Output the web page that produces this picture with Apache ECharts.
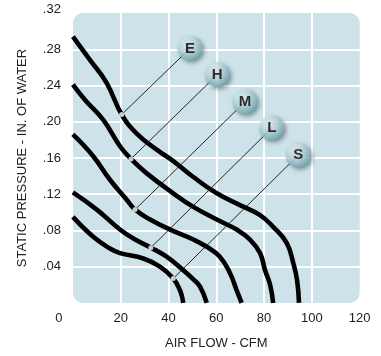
<!DOCTYPE html>
<html>
<head>
<meta charset="utf-8">
<script src="https://cdn.jsdelivr.net/npm/echarts@6/dist/echarts.min.js"></script>
<style>
html,body{margin:0;padding:0;background:#fff;}
#chart{width:381px;height:356px;}
</style>
</head>
<body>
<div id="chart"></div>
<script>
// ---- data ----
const xTickValues = [0, 20, 40, 60, 80, 100, 120];
const xTickLabels = ['0', '20', '40', '60', '80', '100', '120'];
const yTickValues = [0, 0.04, 0.08, 0.12, 0.16, 0.20, 0.24, 0.28, 0.32];
const yTickLabels = ['', '.04', '.08', '.12', '.16', '.20', '.24', '.28', '.32'];

const curveE = [[0,0.294],[7.2,0.268],[14.1,0.243],[20.4,0.208],[26.7,0.187],[35.2,0.169],[42.3,0.156],[50.4,0.139],[60.2,0.121],[69.9,0.108],[78.3,0.097],[83.8,0.084],[89.5,0.066],[92.2,0.044],[93.8,0.025],[94.6,0]];
const curveH = [[0,0.241],[5.1,0.224],[12.7,0.202],[19.7,0.173],[24.3,0.159],[30.9,0.143],[42.0,0.121],[50.4,0.106],[60.2,0.092],[68.5,0.081],[74.1,0.070],[78.3,0.055],[80.4,0.036],[82.5,0.020],[83.8,0]];
const curveM = [[0,0.186],[8.5,0.162],[15.5,0.136],[22.5,0.114],[26.0,0.103],[32.3,0.092],[40.7,0.081],[50.4,0.070],[56.0,0.062],[61.5,0.051],[65.7,0.033],[68.5,0.014],[70.6,0]];
const curveL = [[0,0.122],[10.0,0.103],[19.7,0.081],[25.3,0.071],[32.6,0.061],[39.2,0.051],[46.2,0.036],[50.4,0.026],[53.2,0.018],[56.0,0]];
const curveS = [[0,0.095],[8.5,0.073],[15.5,0.060],[19.7,0.055],[29.5,0.049],[36.4,0.040],[42.0,0.027],[44.8,0.014],[46.2,0]];

const speedNames = ['E', 'H', 'M', 'L', 'S'];
const dotPoints = [[20.4,0.208],[24.3,0.159],[26.0,0.103],[32.6,0.061],[42.0,0.027]];
const badgePoints = [[49.0,0.281],[60.4,0.252],[72.0,0.222],[83.2,0.193],[94.3,0.163]];

// ---- chart ----
const chart = echarts.init(document.getElementById('chart'), null, {renderer: 'canvas'});
const FONT = '"Liberation Sans", Arial, Helvetica, sans-serif';
const curves = [curveE, curveH, curveM, curveL, curveS];

const series = [];
curves.forEach((c, i) => {
  series.push({
    type: 'line', name: speedNames[i], data: c, smooth: 0.45,
    showSymbol: false, symbol: 'none', z: 2,
    lineStyle: {color: '#000', width: 4.6, cap: 'butt'},
    silent: true, animation: false
  });
});
speedNames.forEach((n, i) => {
  series.push({
    type: 'line', data: [dotPoints[i], badgePoints[i]], showSymbol: false, symbol: 'none', z: 3,
    lineStyle: {color: '#111', width: 0.9}, silent: true, animation: false
  });
});
series.push({
  type: 'scatter', data: dotPoints, symbol: 'circle', symbolSize: 5, z: 4,
  itemStyle: {color: '#fff'}, silent: true, animation: false
});
series.push({
  type: 'scatter', z: 5, symbol: 'circle', symbolSize: 25, silent: true, animation: false,
  data: badgePoints.map((p, i) => ({value: p, name: speedNames[i]})),
  itemStyle: {
    color: {
      type: 'radial', x: 0.4, y: 0.35, r: 0.7,
      colorStops: [
        {offset: 0, color: '#f5fbfc'},
        {offset: 0.45, color: '#c3dfe6'},
        {offset: 0.85, color: '#7fb4c1'},
        {offset: 1, color: '#5f97a5'}
      ]
    },
    shadowColor: 'rgba(0,0,0,0.45)', shadowBlur: 4, shadowOffsetX: 2, shadowOffsetY: 2
  },
  label: {
    show: true, position: 'inside', formatter: (p) => '{b|' + p.name + '}',
    color: '#000', textBorderWidth: 0, textBorderColor: 'transparent',
    rich: {b: {color: '#000', fontWeight: 'bold', fontSize: 15, fontFamily: FONT,
               textBorderWidth: 0, textBorderColor: 'transparent'}}
  }
});

const option = {
  animation: false,
  grid: {left: 72.9, right: 21.3, top: 13.1, bottom: 53.1, containLabel: false},
  xAxis: {
    type: 'value', min: 0, max: 120, interval: 20,
    axisLine: {show: false}, axisTick: {show: false},
    splitLine: {show: true, showMinLine: false, showMaxLine: false, lineStyle: {color: '#fff', width: 2}},
    axisLabel: {
      margin: 9, color: '#222', fontSize: 13, fontFamily: FONT,
      formatter: (v) => {
        const idx = xTickValues.indexOf(v);
        const t = idx >= 0 ? xTickLabels[idx] : '';
        return v === 0 ? '{z|' + t + '}' : t;
      },
      rich: {z: {fontSize: 13, fontFamily: FONT, color: '#222', padding: [0, 28, 0, 0]}}
    },
    name: 'AIR FLOW - CFM', nameLocation: 'middle', nameGap: 34,
    nameTextStyle: {color: '#222', fontSize: 13, fontFamily: FONT}
  },
  yAxis: {
    type: 'value', min: 0, max: 0.32, interval: 0.04,
    axisLine: {show: false}, axisTick: {show: false},
    splitLine: {show: true, showMinLine: false, showMaxLine: false, lineStyle: {color: '#fff', width: 2}},
    axisLabel: {
      margin: 12, color: '#222', fontSize: 13, fontFamily: FONT,
      formatter: (v) => {
        let idx = -1;
        yTickValues.forEach((t, i) => { if (Math.abs(t - v) < 1e-6) idx = i; });
        const t = idx >= 0 ? yTickLabels[idx] : '';
        return idx === yTickValues.length - 1 ? '{t|' + t + '}' : t;
      },
      rich: {t: {fontSize: 13, fontFamily: FONT, color: '#222', padding: [0, 0, 8, 0]}}
    },
    name: 'STATIC PRESSURE - IN. OF WATER', nameLocation: 'middle', nameGap: 44,
    nameTextStyle: {color: '#222', fontSize: 13, fontFamily: FONT}
  },
  series: series
};
chart.setOption(option);

// rounded plot background from the axes' own scale
const p0 = chart.convertToPixel({gridIndex: 0}, [0, 0.32]);
const p1 = chart.convertToPixel({gridIndex: 0}, [120, 0]);
chart.setOption({
  graphic: [{
    type: 'rect', z: -10, silent: true,
    shape: {x: p0[0], y: p0[1], width: p1[0] - p0[0], height: p1[1] - p0[1], r: 10},
    style: {fill: '#cde3e9'}
  }]
});
</script>
</body>
</html>
